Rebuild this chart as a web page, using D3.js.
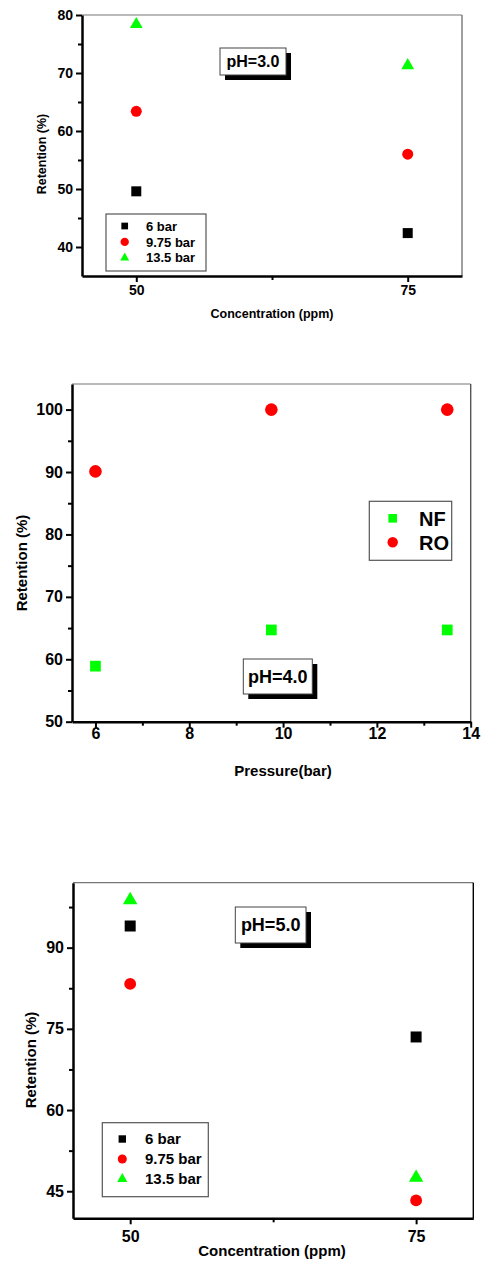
<!DOCTYPE html>
<html>
<head>
<meta charset="utf-8">
<script src="https://cdn.jsdelivr.net/npm/d3@7"></script>
<style>
  body { margin: 0; background: #fff; }
  svg text { font-family: "Liberation Sans", Arial, sans-serif; font-weight: bold; fill: #000; }
</style>
</head>
<body>
<div id="chart"></div>
<script>
// pH = 3.0, retention vs concentration
var concentrations = [50, 75];
var ph3_6bar = [49.6, 42.4];
var ph3_975bar = [63.4, 56.0];
var ph3_135bar = [78.4, 71.3];

// pH = 4.0, retention vs pressure
var pressures = [6, 9.75, 13.5];
var ph4_NF = [58.9, 64.7, 64.7];
var ph4_RO = [90.1, 100, 100];

// pH = 5.0, retention vs concentration
var ph5_6bar = [94.0, 73.5];
var ph5_975bar = [83.3, 43.3];
var ph5_135bar = [98.8, 47.5];

var barLabels = ["6 bar", "9.75 bar", "13.5 bar"];
var membraneLabels = ["NF", "RO"];

var width = 481, height = 1262;

var svg = d3.select("#chart")
  .append("svg")
  .attr("width", width)
  .attr("height", height);

function drawPanel(o) {
  var g = svg.append("g");

  var x = d3.scaleLinear().domain(o.xDomain).range([o.left, o.right]);
  var y = d3.scaleLinear().domain(o.yDomain).range([o.bottom, o.top]);

  // frame: thin top/right
  g.append("line").attr("x1", o.left).attr("x2", o.right).attr("y1", o.top).attr("y2", o.top)
    .attr("stroke", "#777").attr("stroke-width", 1.2);
  g.append("line").attr("x1", o.right).attr("x2", o.right).attr("y1", o.top).attr("y2", o.bottom)
    .attr("stroke", o.rightColor || "#777").attr("stroke-width", 1.4);

  // minor ticks
  g.append("g").attr("transform", "translate(0," + o.bottom + ")")
    .call(d3.axisBottom(x).tickValues(o.xMinor).tickSize(4).tickFormat(""))
    .call(function(a) { a.select(".domain").remove(); a.selectAll("line").attr("stroke-width", 2); });
  g.append("g").attr("transform", "translate(" + o.left + ",0)")
    .call(d3.axisLeft(y).tickValues(o.yMinor).tickSize(4).tickFormat(""))
    .call(function(a) { a.select(".domain").remove(); a.selectAll("line").attr("stroke-width", 2); });

  // major axes
  var xa = g.append("g").attr("transform", "translate(0," + o.bottom + ")")
    .call(d3.axisBottom(x).tickValues(o.xTicks).tickSize(6).tickSizeOuter(0).tickPadding(o.xPad));
  var ya = g.append("g").attr("transform", "translate(" + o.left + ",0)")
    .call(d3.axisLeft(y).tickValues(o.yTicks).tickSize(6).tickSizeOuter(0).tickPadding(3));
  [xa, ya].forEach(function(a) {
    a.select(".domain").attr("stroke-width", 2.5);
    a.selectAll(".tick line").attr("stroke-width", 2);
    a.selectAll("text").attr("font-size", o.tickFont).attr("font-family", null);
  });

  // axis titles
  g.append("text")
    .attr("x", o.xTitlePos[0]).attr("y", o.xTitlePos[1])
    .attr("text-anchor", "middle").attr("font-size", o.titleFont)
    .text(o.xTitle);
  g.append("text")
    .attr("transform", "translate(" + o.yTitlePos[0] + "," + o.yTitlePos[1] + ") rotate(-90)")
    .attr("text-anchor", "middle").attr("dy", "0.35em").attr("font-size", o.titleFont)
    .text("Retention (%)");

  // data
  o.series.forEach(function(s) {
    g.selectAll(null)
      .data(s.values)
      .enter()
      .append("path")
      .attr("d", d3.symbol().type(s.type).size(s.size))
      .attr("transform", function(d, i) { return "translate(" + x(o.xs[i]) + "," + y(d) + ")"; })
      .attr("fill", s.color);
  });

  // legend
  var L = o.legend;
  g.append("rect")
    .attr("x", L.x).attr("y", L.y).attr("width", L.w).attr("height", L.h)
    .attr("fill", "#fff").attr("stroke", "#555").attr("stroke-width", 1.2);
  o.series.forEach(function(s, i) {
    var cy = L.rowY + i * L.rowStep;
    g.append("path")
      .attr("d", d3.symbol().type(s.type).size(L.symSize[i]))
      .attr("transform", "translate(" + L.symX + "," + cy + ")")
      .attr("fill", s.color);
    g.append("text")
      .attr("x", L.textX).attr("y", cy).attr("dy", "0.36em")
      .attr("font-size", L.font)
      .text(s.label);
  });

  // pH label with drop shadow
  var P = o.ph;
  g.append("rect").attr("x", P.x + 5).attr("y", P.y + 5).attr("width", P.w).attr("height", P.h).attr("fill", "#000");
  g.append("rect").attr("x", P.x).attr("y", P.y).attr("width", P.w).attr("height", P.h)
    .attr("fill", "#fff").attr("stroke", "#444").attr("stroke-width", 1);
  g.append("text")
    .attr("x", P.x + P.w / 2).attr("y", P.y + P.h / 2).attr("dy", "0.36em")
    .attr("text-anchor", "middle").attr("font-size", P.font)
    .text(P.text);
}

// panel 1 : pH 3.0
drawPanel({
  left: 82, right: 462, top: 15, bottom: 276,
  xDomain: [45, 80], yDomain: [35, 80],
  xTicks: [50, 75], xMinor: [62.5],
  yTicks: [40, 50, 60, 70, 80], yMinor: [45, 55, 65, 75],
  xPad: 3, tickFont: 14, titleFont: 12.5,
  xTitle: "Concentration (ppm)", xTitlePos: [272, 318], yTitlePos: [42, 154],
  xs: concentrations,
  series: [
    { label: barLabels[0], values: ph3_6bar, type: d3.symbolSquare, size: 100, color: "#000" },
    { label: barLabels[1], values: ph3_975bar, type: d3.symbolCircle, size: 95, color: "#ff0000" },
    { label: barLabels[2], values: ph3_135bar, type: d3.symbolTriangle, size: 70, color: "#00ff00" }
  ],
  legend: { x: 106, y: 214, w: 100, h: 57, symX: 124.7, textX: 146, rowY: 226, rowStep: 15.9,
            symSize: [45, 55, 35], font: 13 },
  ph: { x: 220, y: 48, w: 66, h: 27, font: 16, text: "pH=3.0" }
});

// panel 2 : pH 4.0
drawPanel({
  left: 72, right: 470.7, top: 384, bottom: 721.7,
  xDomain: [5.5, 14], yDomain: [50, 104.1],
  xTicks: [6, 8, 10, 12, 14], xMinor: [7, 9, 11, 13],
  yTicks: [50, 60, 70, 80, 90, 100], yMinor: [55, 65, 75, 85, 95],
  xPad: 0, tickFont: 16, titleFont: 15, rightColor: "#555",
  xTitle: "Pressure(bar)", xTitlePos: [283, 776], yTitlePos: [22, 563],
  xs: pressures,
  series: [
    { label: membraneLabels[0], values: ph4_NF, type: d3.symbolSquare, size: 115, color: "#00ff00" },
    { label: membraneLabels[1], values: ph4_RO, type: d3.symbolCircle, size: 125, color: "#ff0000" }
  ],
  legend: { x: 369.3, y: 501.3, w: 82.4, h: 59, symX: 392.7, textX: 419, rowY: 518.3, rowStep: 24,
            symSize: [75, 85], font: 20 },
  ph: { x: 243.3, y: 659, w: 69, h: 35, font: 18, text: "pH=4.0" }
});

// panel 3 : pH 5.0
drawPanel({
  left: 73, right: 473.3, top: 882.7, bottom: 1218.3,
  xDomain: [45, 80], yDomain: [40, 102],
  xTicks: [50, 75], xMinor: [62.5],
  yTicks: [45, 60, 75, 90], yMinor: [52.5, 67.5, 82.5, 97.5],
  xPad: 6, tickFont: 16, titleFont: 15, rightColor: "#000",
  xTitle: "Concentration (ppm)", xTitlePos: [272, 1256], yTitlePos: [31, 1060],
  xs: concentrations,
  series: [
    { label: barLabels[0], values: ph5_6bar, type: d3.symbolSquare, size: 121, color: "#000" },
    { label: barLabels[1], values: ph5_975bar, type: d3.symbolCircle, size: 110, color: "#ff0000" },
    { label: barLabels[2], values: ph5_135bar, type: d3.symbolTriangle, size: 90, color: "#00ff00" }
  ],
  legend: { x: 102.3, y: 1122.7, w: 106, h: 74, symX: 122.3, textX: 145, rowY: 1139, rowStep: 20,
            symSize: [55, 65, 45], font: 15 },
  ph: { x: 235.3, y: 907, w: 70.7, h: 36, font: 18, text: "pH=5.0" }
});
</script>
</body>
</html>
